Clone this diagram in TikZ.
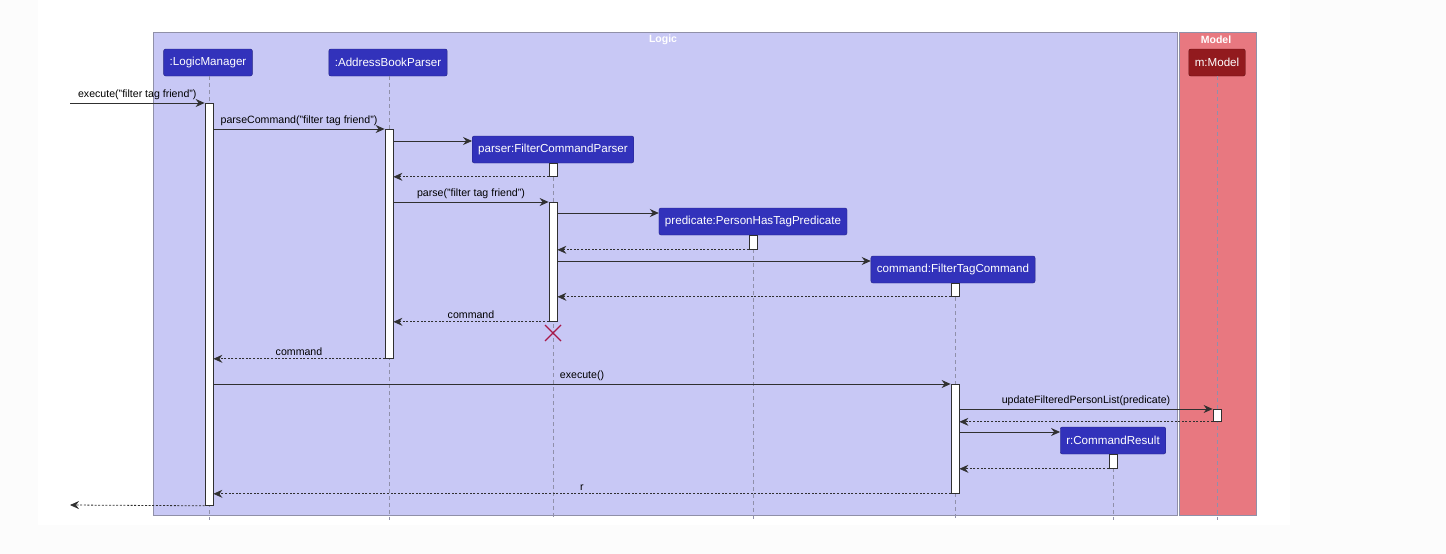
\documentclass[tikz,border=0pt]{standalone}
\usepackage{fontspec}
\setmainfont{Liberation Sans}
\usetikzlibrary{arrows.meta}
\definecolor{logicfill}{HTML}{C8C8F5}
\definecolor{modelfill}{HTML}{E87880}
\definecolor{boxline}{HTML}{9090A8}
\definecolor{partblue}{HTML}{3232BB}
\definecolor{partred}{HTML}{921A1E}
\definecolor{lifeline}{HTML}{9090AA}
\definecolor{msgcol}{HTML}{303030}
\definecolor{xcol}{HTML}{A81848}
\definecolor{outerbg}{HTML}{FCFCFC}
\tikzset{
  part/.style={rounded corners=2pt, fill=partblue, draw=partblue!70!black, text=white,
    font=\fontsize{11.6}{13}\selectfont, minimum height=27pt, inner xsep=6pt, inner ysep=0pt},
  partm/.style={part, fill=partred, draw=partred!70!black},
  life/.style={draw=lifeline, line width=0.8pt, dash pattern=on 4pt off 3pt},
  actbox/.style={draw=msgcol, fill=white, line width=0.8pt, minimum width=8pt, inner sep=0pt, anchor=north},
  msg/.style={draw=msgcol, line width=0.8pt, -{Stealth[length=9pt,width=8pt,inset=3pt]}},
  ret/.style={msg, dash pattern=on 2pt off 1.6pt},
  lbl/.style={font=\fontsize{10.6}{12}\selectfont, text=black, inner sep=2.6pt},
  grplbl/.style={font=\bfseries\fontsize{10.5}{12}\selectfont, text=white, inner sep=0pt}
}
\begin{document}
\begin{tikzpicture}[x=1pt,y=-1pt]
\useasboundingbox (0,0) rectangle (1446,554);
\fill[outerbg] (0,0) rectangle (1446,554);
\fill[white] (38,0) rectangle (1290,525);
% groups
\node[draw=boxline, fill=logicfill, line width=0.8pt, minimum width=1024pt, minimum height=483pt, inner sep=0pt, anchor=north west] (logic) at (153,32) {};
\node[grplbl] (logiclbl) at (663,40) {Logic};
\node[draw=boxline, fill=modelfill, line width=0.8pt, minimum width=77pt, minimum height=483pt, inner sep=0pt, anchor=north west] (model) at (1179,32) {};
\node[grplbl] (modellbl) at (1216,39.5) {Model};
% participants
\node[part] (lm) at (208,62.5) {:LogicManager};
\node[part] (abp) at (388,62.5) {:AddressBookParser};
\node[part] (fcp) at (553,149.5) {parser:FilterCommandParser};
\node[part] (phtp) at (753,221.5) {predicate:PersonHasTagPredicate};
\node[part] (ftc) at (953,269.5) {command:FilterTagCommand};
\node[partm] (mm) at (1217,62.5) {m:Model};
\node[part] (cr) at (1113,440.5) {r:CommandResult};
% lifelines
\coordinate (lmE) at (209,520);
\coordinate (abpE) at (389,520);
\coordinate (fcpE) at (553,520);
\coordinate (phtpE) at (753,520);
\coordinate (ftcE) at (955,520);
\coordinate (mmE) at (1217,520);
\coordinate (crE) at (1113,520);
\draw[life] (lm.south -| lmE) -- (lmE);
\draw[life] (abp.south -| abpE) -- (abpE);
\draw[life] (fcp.south -| fcpE) -- (fcpE);
\draw[life] (phtp.south -| phtpE) -- (phtpE);
\draw[life] (ftc.south -| ftcE) -- (ftcE);
\draw[life] (mm.south -| mmE) -- (mmE);
\draw[life] (cr.south -| crE) -- (crE);
% activation bars
\node[actbox, minimum height=402pt] (lmA) at (209,103) {};
\node[actbox, minimum height=229pt] (abpA) at (389,129) {};
\node[actbox, minimum height=13pt] (fcpA) at (553,163) {};
\node[actbox, minimum height=119pt] (fcpB) at (553,202) {};
\node[actbox, minimum height=14pt] (phtpA) at (753,235) {};
\node[actbox, minimum height=13pt] (ftcA) at (955,283) {};
\node[actbox, minimum height=109pt] (ftcB) at (955,384) {};
\node[actbox, minimum height=12pt] (mmA) at (1217,409) {};
\node[actbox, minimum height=14pt] (crA) at (1113,454) {};
% destroy
\node[inner sep=0pt, minimum size=1pt] (xd) at (553,333) {};
\draw[xcol, line width=1.3pt] ([shift={(-8,-8)}]xd.center) -- ([shift={(8,8)}]xd.center)
  ([shift={(-8,8)}]xd.center) -- ([shift={(8,-8)}]xd.center);
% free ends
\coordinate (inS) at (70,103);
\coordinate (outE) at (70,505);
% messages
\draw[msg] (inS) -- (lmA.west |- inS) node[lbl, midway, above] {execute("filter tag friend")};
\draw[msg] (lmA.east |- 0,129) -- (abpA.west |- 0,129) node[lbl, midway, above] {parseCommand("filter tag friend")};
\draw[msg] (abpA.east |- 0,141) -- (fcp.west |- 0,141);
\draw[ret] (fcpA.south west) -- (abpA.east |- fcpA.south);
\draw[msg] (abpA.east |- fcpB.north) -- (fcpB.north west) node[lbl, midway, above] {parse("filter tag friend")};
\draw[msg] (fcpB.east |- 0,213) -- (phtp.west |- 0,213);
\draw[ret] (phtpA.south west) -- (fcpB.east |- phtpA.south);
\draw[msg] (fcpB.east |- 0,261) -- (ftc.west |- 0,261);
\draw[ret] (ftcA.south west) -- (fcpB.east |- ftcA.south);
\draw[ret] (fcpB.south west) -- (abpA.east |- fcpB.south) node[lbl, midway, above] {command};
\draw[ret] (abpA.south west) -- (lmA.east |- abpA.south) node[lbl, midway, above] {command};
\draw[msg] (lmA.east |- ftcB.north) -- (ftcB.north west) node[lbl, midway, above] {execute()};
\draw[msg] (ftcB.east |- mmA.north) -- (mmA.north west) node[lbl, midway, above] {updateFilteredPersonList(predicate)};
\draw[ret] (mmA.south west) -- (ftcB.east |- mmA.south);
\draw[msg] (ftcB.east |- 0,432) -- (cr.west |- 0,432);
\draw[ret] (crA.south west) -- (ftcB.east |- crA.south);
\draw[ret] (ftcB.south west) -- (lmA.east |- ftcB.south) node[lbl, midway, above] {r};
\draw[ret] (lmA.south west) -- (outE);
\end{tikzpicture}
\end{document}
